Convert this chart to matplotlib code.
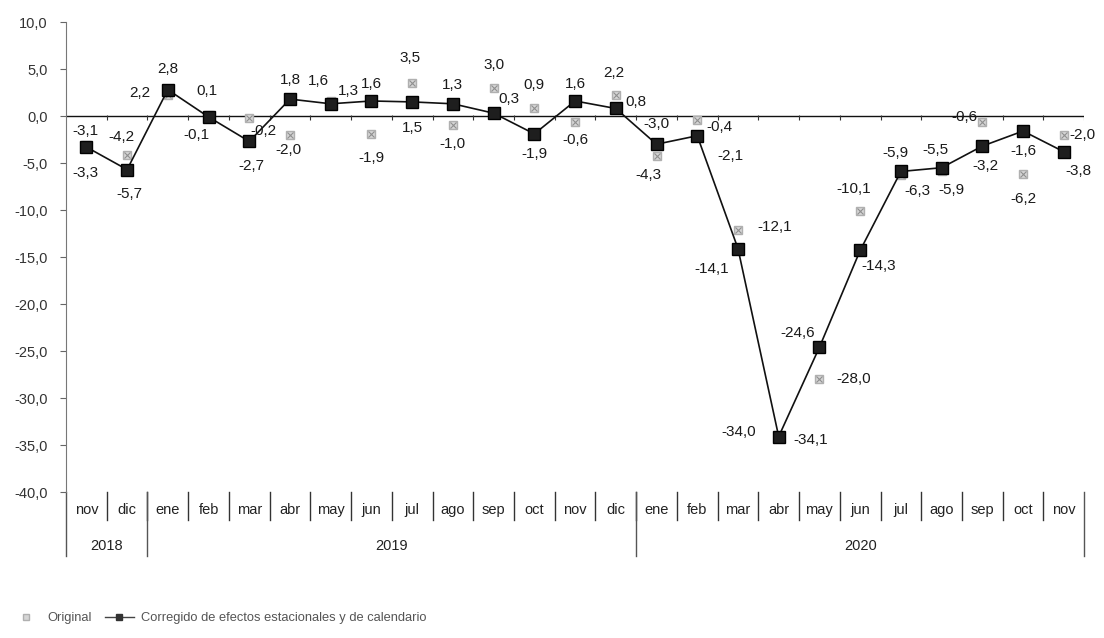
import matplotlib
matplotlib.use('Agg')
import matplotlib.pyplot as plt
from matplotlib.lines import Line2D
import matplotlib.transforms as mtransforms

plt.rcParams['font.family'] = ['Liberation Sans', 'DejaVu Sans']

# data: monthly rate, nov 2018 - nov 2020
months = ['nov', 'dic', 'ene', 'feb', 'mar', 'abr', 'may', 'jun', 'jul', 'ago',
          'sep', 'oct', 'nov', 'dic', 'ene', 'feb', 'mar', 'abr', 'may', 'jun',
          'jul', 'ago', 'sep', 'oct', 'nov']
years = ['2018', '2019', '2020']
year_months = [2, 12, 11]   # number of months in each year group

original = [-3.1, -4.2, 2.2, 0.1, -0.2, -2.0, 1.6, -1.9, 3.5, -1.0, 3.0, 0.9,
            -0.6, 2.2, -4.3, -0.4, -12.1, -34.0, -28.0, -10.1, -6.3, -5.9,
            -0.6, -6.2, -2.0]
corrected = [-3.3, -5.7, 2.8, -0.1, -2.7, 1.8, 1.3, 1.6, 1.5, 1.3, 0.3, -1.9,
             1.6, 0.8, -3.0, -2.1, -14.1, -34.1, -24.6, -14.3, -5.9, -5.5,
             -3.2, -1.6, -3.8]

yticks = [10, 5, 0, -5, -10, -15, -20, -25, -30, -35, -40]

# label offsets in pixels (dx, dy) for each point
corr_off = [(-1, -26), (2, -24), (0, 21), (-12, -18), (2, -25), (0, 19),
            (18, 13), (0, 17), (0, -26), (0, 19), (15, 14), (0, -20),
            (0, 17), (20, 6), (0, 20), (33, -20), (-26, -20), (32, -3),
            (-22, 14), (19, -16), (-5, 18), (-6, 18), (3, -20), (0, -20),
            (15, -19)]
orig_off = [(-1, 14), (-6, 18), (-28, 2), (-2, 24), (14, -13), (-2, -15),
            (-12, 20), (0, -24), (-2, 25), (0, -19), (0, 23), (0, 23),
            (0, -18), (-2, 22), (-8, -19), (22, -7), (37, 3), (-40, 4),
            (34, 0), (-6, 22), (17, -16), (10, -19), (-18, 5), (0, -25),
            (19, 0)]


def fmt(v):
    return f'{v:.1f}'.replace('.', ',')


fig = plt.figure(figsize=(11.04, 6.38), dpi=100)
ax = fig.add_axes([0.0598, 0.2288, 0.9222, 0.7367])

x = [i + 0.5 for i in range(len(months))]

ax.plot(x, original, linestyle='none', marker='s', markersize=6.2,
        markerfacecolor='#d6d6d6', markeredgecolor='#b0b0b0', zorder=2)
ax.plot(x, original, linestyle='none', marker='x', markersize=4.3,
        markeredgecolor='#909090', markeredgewidth=0.8, zorder=2)
ax.plot(x, corrected, color='#111111', linewidth=1.2, marker='s',
        markersize=8, markerfacecolor='#1e1e1e', markeredgecolor='#000000',
        zorder=3)

for xi, v, off in zip(x, corrected, corr_off):
    ax.annotate(fmt(v), (xi, v), xytext=off, textcoords='offset pixels',
                ha='center', va='center', fontsize=11, color='#1a1a1a')
for xi, v, off in zip(x, original, orig_off):
    ax.annotate(fmt(v), (xi, v), xytext=off, textcoords='offset pixels',
                ha='center', va='center', fontsize=11, color='#1a1a1a')

ax.set_xlim(0, len(months))
ax.set_ylim(-40, 10)
ax.set_yticks(yticks)
ax.set_yticklabels([fmt(v) for v in yticks], fontsize=10.5, color='#333333')
ax.tick_params(axis='y', direction='out', length=4, color='#666666', pad=9)
ax.set_xticks([])

for s in ['top', 'right', 'bottom']:
    ax.spines[s].set_visible(False)
ax.spines['left'].set_color('#777777')

# zero line with small ticks at category boundaries
ax.axhline(0, color='#111111', linewidth=1.0, zorder=1)
ax.vlines(range(1, len(months) + 1), -0.45, 0.15, color='#333333',
          linewidth=0.8, zorder=1)

# category table under the plot
trans = mtransforms.blended_transform_factory(ax.transData, ax.transAxes)
for i in range(1, len(months)):
    ax.plot([i, i], [0.0, -0.06], transform=trans, color='#333333',
            linewidth=1.0, clip_on=False)
for xi, m in zip(x, months):
    ax.text(xi, -0.038, m, transform=trans, ha='center', va='center',
            fontsize=10.5, color='#222222')

start = 0
for y_lab, n in zip(years, year_months):
    ax.plot([start, start], [0.0, -0.136], transform=trans, color='#555555',
            linewidth=1.0, clip_on=False)
    ax.text(start + n / 2, -0.115, y_lab, transform=trans, ha='center',
            va='center', fontsize=10.5, color='#222222')
    start += n
ax.plot([start, start], [0.0, -0.136], transform=trans, color='#555555',
        linewidth=1.0, clip_on=False)

handles = [
    Line2D([], [], linestyle='none', marker='s', markersize=5,
           markerfacecolor='#d6d6d6', markeredgecolor='#b0b0b0'),
    Line2D([], [], color='#444444', linewidth=1.0, marker='s', markersize=5,
           markerfacecolor='#333333', markeredgecolor='#333333'),
]
fig.legend(handles, ['Original', 'Corregido de efectos estacionales y de calendario'],
           loc='lower left', bbox_to_anchor=(0.0, 0.003), ncol=2,
           frameon=False, fontsize=9.3, labelcolor='#555555',
           handlelength=2.2, columnspacing=1.0, handletextpad=0.6)

plt.savefig('out.png', dpi=100)
